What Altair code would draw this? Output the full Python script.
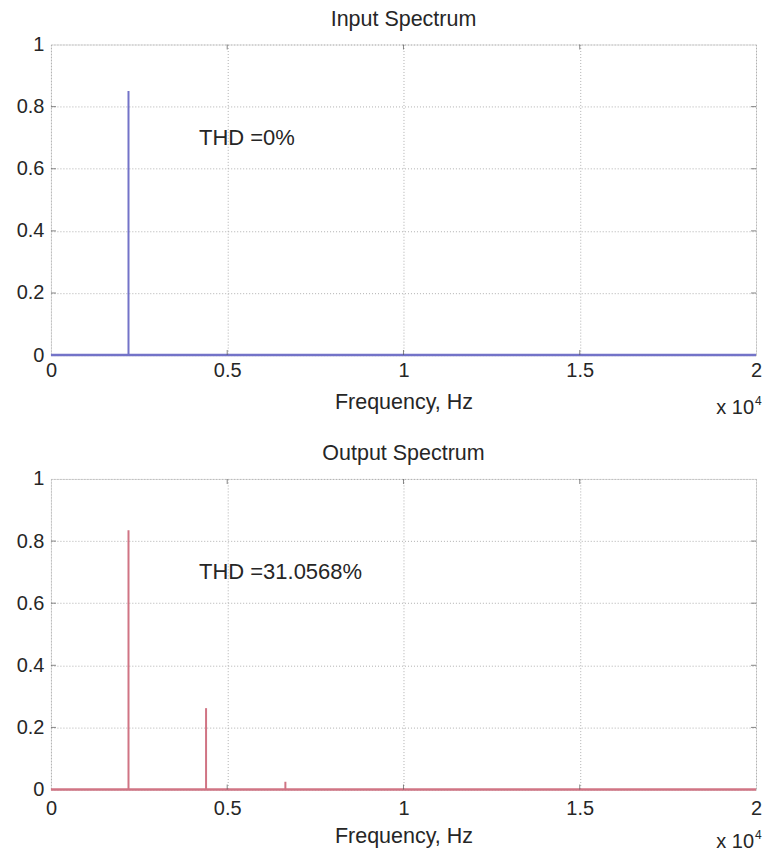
import altair as alt
import pandas as pd

# ---- data ----
x_domain = [0, 20000]
x_tick_values = [0, 5000, 10000, 15000, 20000]
y_tick_values = [0, 0.2, 0.4, 0.6, 0.8, 1.0]

in_freq = [2200]
in_amp = [0.85]
out_freq = [2200, 4400, 6650]
out_amp = [0.835, 0.262, 0.025]

in_title = "Input Spectrum"
out_title = "Output Spectrum"
in_thd = "THD =0%"
out_thd = "THD =31.0568%"
thd_pos = [4200, 0.70]

W, H = 706, 311
FONT = "Liberation Sans"
TXT = "#262626"
EDGE = "#555555"


def panel(freqs, amps, color, title, thd, label_pad):
    spikes = pd.DataFrame({"f": freqs, "a": amps, "z": [0] * len(freqs)})
    base = pd.DataFrame({"x0": [x_domain[0]], "x1": [x_domain[1]], "y": [0]})
    ann = pd.DataFrame({"x": [thd_pos[0]], "y": [thd_pos[1]], "t": [thd]})
    xt = pd.DataFrame({"v": x_tick_values[1:-1]})
    yt = pd.DataFrame({"v": y_tick_values[1:-1]})

    xscale = alt.Scale(domain=x_domain, nice=False, zero=False)
    yscale = alt.Scale(domain=[0, 1], nice=False)

    xaxis = alt.Axis(
        values=x_tick_values,
        labelExpr="format(datum.value/10000,'~g')",
        grid=True, gridDash=[1, 2], gridColor="#b0b0b0", gridWidth=1,
        ticks=False, domain=False,
        labelFontSize=20, labelFont=FONT, labelColor=TXT,
        labelPadding=label_pad, labelBaseline="top", labelFlush=False,
        title="Frequency, Hz", titleFontSize=21.5, titleFont=FONT,
        titleFontWeight="normal", titleColor=TXT,
        titlePadding=16.5 - label_pad, titleBaseline="top",
    )
    yaxis = alt.Axis(
        values=y_tick_values,
        labelExpr="format(datum.value,'~g')",
        grid=True, gridDash=[1, 2], gridColor="#b0b0b0", gridWidth=1,
        ticks=False, domain=False,
        labelFontSize=20, labelFont=FONT, labelColor=TXT, labelPadding=7,
        labelFlush=False,
        title=None, minExtent=37, maxExtent=37,
    )

    baseline = alt.Chart(base).mark_rule(color=color, strokeWidth=2.5).encode(
        x=alt.X("x0:Q", scale=xscale, axis=xaxis),
        x2="x1:Q",
        y=alt.Y("y:Q", scale=yscale, axis=yaxis),
    )
    lines = alt.Chart(spikes).mark_rule(color=color, strokeWidth=2).encode(
        x=alt.X("f:Q", scale=xscale),
        y=alt.Y("z:Q", scale=yscale),
        y2="a:Q",
    )
    # small inward ticks on the four sides of the box
    tick_top = alt.Chart(xt).mark_tick(color=EDGE, size=5, thickness=1).encode(
        x=alt.X("v:Q", scale=xscale), y=alt.value(2.5))
    tick_bot = alt.Chart(xt).mark_tick(color=EDGE, size=5, thickness=1).encode(
        x=alt.X("v:Q", scale=xscale), y=alt.value(H - 2.5))
    tick_left = alt.Chart(yt).mark_tick(color=EDGE, size=5, thickness=1).encode(
        y=alt.Y("v:Q", scale=yscale), x=alt.value(2.5))
    tick_right = alt.Chart(yt).mark_tick(color=EDGE, size=5, thickness=1).encode(
        y=alt.Y("v:Q", scale=yscale), x=alt.value(W - 2.5))

    text = alt.Chart(ann).mark_text(
        align="left", baseline="middle", fontSize=22, font=FONT, color=TXT
    ).encode(
        x=alt.X("x:Q", scale=xscale),
        y=alt.Y("y:Q", scale=yscale),
        text="t:N",
    )
    ttl = alt.Chart(ann).mark_text(
        align="center", baseline="top", fontSize=21.5, font=FONT, color=TXT
    ).encode(x=alt.value(W / 2), y=alt.value(-35.5), text=alt.value(title))
    mult = alt.Chart(ann).mark_text(
        align="right", baseline="top", fontSize=20, font=FONT, color=TXT
    ).encode(x=alt.value(W - 2), y=alt.value(H + 43), text=alt.value("x 10"))
    sup = alt.Chart(ann).mark_text(
        align="left", baseline="top", fontSize=12, font=FONT, color=TXT
    ).encode(x=alt.value(W - 1), y=alt.value(H + 41), text=alt.value("4"))

    return alt.layer(
        baseline, lines, tick_top, tick_bot, tick_left, tick_right,
        text, ttl, mult, sup
    ).properties(width=W, height=H)


top = panel(in_freq, in_amp, "#7373c8", in_title, in_thd, 5)
bottom = panel(out_freq, out_amp, "#d07484", out_title, out_thd, 9)

chart = alt.vconcat(top, bottom, spacing=24).properties(
    padding={"left": 5, "top": 0, "right": 0, "bottom": 0}
).configure_view(
    stroke=EDGE, strokeWidth=1.5
).configure(background="white")

chart.save("out.html", embed_options={"renderer": "svg", "actions": False})
